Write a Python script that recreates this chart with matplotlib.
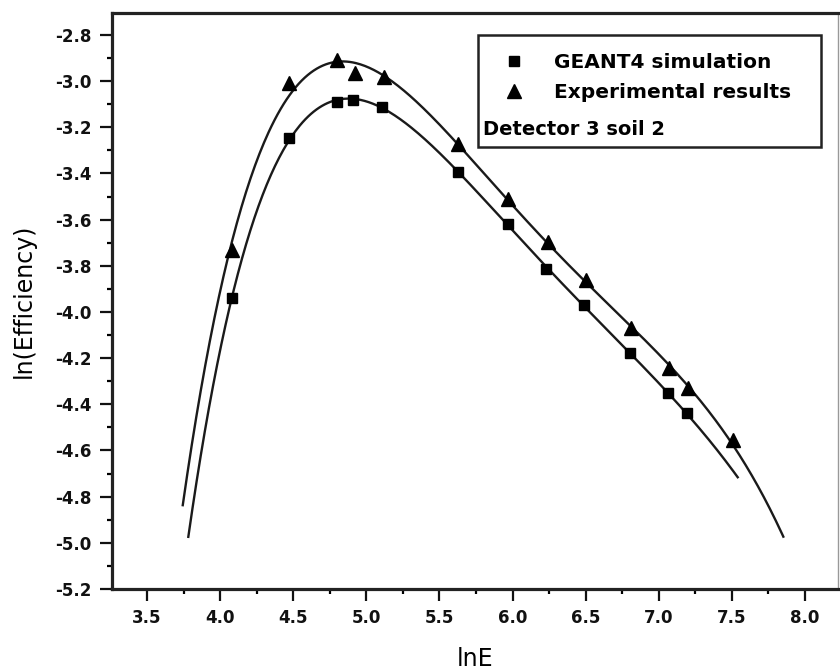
import numpy as np
import matplotlib
matplotlib.use("Agg")
import matplotlib.pyplot as plt
from matplotlib.patches import Rectangle
from matplotlib.lines import Line2D
from matplotlib.ticker import MultipleLocator

plt.rcParams['font.family'] = ['DejaVu Sans']
plt.rcParams['axes.unicode_minus'] = False

# ---- data ----
sim_lnE = [4.08, 4.47, 4.80, 4.91, 5.11, 5.63, 5.97, 6.23, 6.49, 6.80, 7.06, 7.19]
sim_lnEff = [-3.941, -3.248, -3.089, -3.082, -3.113, -3.392, -3.620, -3.815, -3.970, -4.179, -4.350, -4.436]

exp_lnE = [4.08, 4.47, 4.80, 4.92, 5.12, 5.63, 5.97, 6.24, 6.50, 6.81, 7.07, 7.20, 7.51]
exp_lnEff = [-3.732, -3.009, -2.908, -2.963, -2.983, -3.272, -3.511, -3.696, -3.862, -4.071, -4.241, -4.331, -4.555]

# ends of the fitted curves as drawn in the reference
sim_curve_ends_x = [3.782, 7.54]
sim_curve_ends_y = [-4.974, -4.716]
exp_curve_ends_x = [3.744, 7.852]
exp_curve_ends_y = [-4.836, -4.974]

xticks = [3.5, 4.0, 4.5, 5.0, 5.5, 6.0, 6.5, 7.0, 7.5, 8.0]
yticks = [-2.8, -3.0, -3.2, -3.4, -3.6, -3.8, -4.0, -4.2, -4.4, -4.6, -4.8, -5.0, -5.2]

legend_labels = ["GEANT4 simulation", "Experimental results"]
note_text = "Detector 3 soil 2"

fig = plt.figure(figsize=(8.4, 6.72), dpi=100)
ax = fig.add_axes([112/840, 1-589/672, (838-112)/840, (589-13)/672])


def fit_curve(x, y, ex, ey, deg=5):
    xx = np.concatenate([x, ex])
    yy = np.concatenate([y, ey])
    w = np.ones_like(xx)
    w[-2:] = 3.0
    p = np.polyfit(xx, yy, deg, w=w)
    xs = np.linspace(ex[0], ex[1], 400)
    return xs, np.polyval(p, xs)


lc = '#1a1a1a'
xs, ys = fit_curve(sim_lnE, sim_lnEff, sim_curve_ends_x, sim_curve_ends_y)
ax.plot(xs, ys, color=lc, lw=1.7, zorder=2)
xs, ys = fit_curve(exp_lnE, exp_lnEff, exp_curve_ends_x, exp_curve_ends_y)
ax.plot(xs, ys, color=lc, lw=1.7, zorder=2)

ax.plot(sim_lnE, sim_lnEff, 's', color='black', ms=7, zorder=3)
ax.plot(exp_lnE, exp_lnEff, '^', color='black', ms=10, zorder=3)

ax.set_xlim(3.26, 8.226)
ax.set_ylim(-5.2, -2.705)
ax.set_xticks(xticks)
ax.set_xticklabels([f"{t:.1f}" for t in xticks])
ax.set_yticks(yticks)
ax.set_yticklabels([f"{t:.1f}" for t in yticks])
ax.xaxis.set_minor_locator(MultipleLocator(0.25))
ax.yaxis.set_minor_locator(MultipleLocator(0.1))
ax.tick_params(which='major', direction='out', length=8.5, width=1.6, pad=6,
               labelsize=12, colors='#111111')
ax.tick_params(which='minor', direction='out', length=3.6, width=1.6)
ax.tick_params(top=False, right=False, which='both')
for lab in ax.get_xticklabels() + ax.get_yticklabels():
    lab.set_fontweight('bold')

for s in ['left', 'bottom', 'top']:
    ax.spines[s].set_linewidth(2.3)
    ax.spines[s].set_color('#222222')
ax.spines['right'].set_linewidth(1.0)
ax.spines['right'].set_color('#999999')

ax.set_xlabel("lnE", fontsize=17, labelpad=14)
ax.set_ylabel("ln(Efficiency)", fontsize=17, labelpad=14)

# legend box
ax.add_patch(Rectangle((0.504, 0.767), 0.473, 0.195, transform=ax.transAxes,
                       fill=False, lw=1.8, ec='#222222', zorder=4))
handles = [Line2D([], [], ls='none', marker='s', color='black', ms=7),
           Line2D([], [], ls='none', marker='^', color='black', ms=10)]
leg = ax.legend(handles, legend_labels, loc='upper left',
                bbox_to_anchor=(0.532, 0.937), frameon=False,
                fontsize=14.5, handlelength=1.2, handletextpad=1.35,
                labelspacing=0.55, borderaxespad=0, borderpad=0.2)
for t in leg.get_texts():
    t.set_fontweight('semibold')
ax.text(0.511, 0.797, note_text, transform=ax.transAxes, fontsize=14,
        fontweight='semibold', va='center', ha='left')

fig.savefig("out.png", dpi=100)
